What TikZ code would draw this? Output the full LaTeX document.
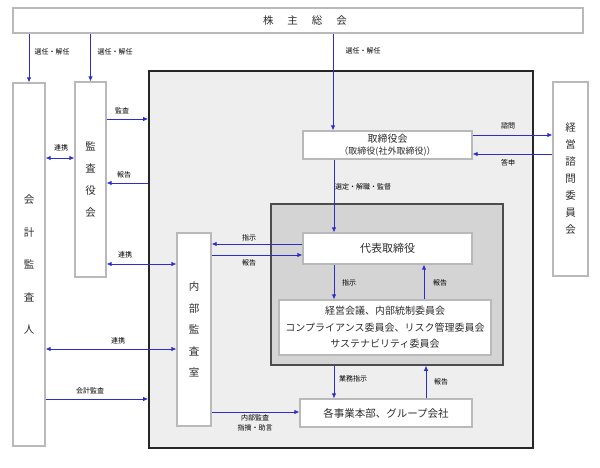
\documentclass[tikz,border=0pt]{standalone}
\usepackage{fontspec}
\setmainfont{Noto Sans CJK JP}
\usepackage{tikz}
\usetikzlibrary{arrows.meta,calc}
\definecolor{boxline}{RGB}{185,185,185}
\definecolor{arrline}{RGB}{45,45,205}
\definecolor{outfill}{RGB}{238,238,238}
\definecolor{infill}{RGB}{212,212,212}
\definecolor{figtext}{RGB}{45,45,45}
\tikzset{
  bx/.style   ={draw=boxline, fill=white, line width=1.2pt, inner sep=0pt, text=figtext, align=center, font=\fontsize{10.5}{13}\selectfont},
  vbx/.style  ={bx, font=\fontsize{10.5}{#1}\selectfont},
  lab/.style  ={font=\fontsize{7}{10}\selectfont, inner sep=1pt, text=black, align=center},
  ptr/.style  ={draw=arrline, line width=0.8pt, -{Latex[length=5pt,width=4.5pt]}},
  dptr/.style ={ptr, {Latex[length=5pt,width=4.5pt]}-{Latex[length=5pt,width=4.5pt]}},
}

\begin{document}
\begin{tikzpicture}[x=1pt,y=-1pt]
  \useasboundingbox (0,0) rectangle (600,468);
  % frames
  \node[draw=black!85, fill=outfill, line width=1.8pt, minimum width=384pt, minimum height=377pt] (outer) at (341,259.5) {};
  \node[draw=black!70, fill=infill, line width=1.5pt, minimum width=232pt, minimum height=161pt] (inner) at (387,284.5) {};
  % boxes
  \node[bx, minimum width=570pt, minimum height=25pt] (kabu) at (298,20.5) {\hspace*{14pt}株\hspace{14pt}主\hspace{14pt}総\hspace{14pt}会};
  \node[vbx=32.5pt, minimum width=32pt, minimum height=363pt] (kaikei) at (29,264.5) {会\\計\\監\\査\\人};
  \node[vbx=22pt, minimum width=31pt, minimum height=195pt] (kansayaku) at (90.5,179.5) {監\\査\\役\\会};
  \node[vbx=21.5pt, minimum width=34pt, minimum height=193pt] (naibu) at (194,329.5) {内\\部\\監\\査\\室};
  \node[vbx=17pt, minimum width=35pt, minimum height=194pt] (shimon) at (570.5,179) {経\\営\\諮\\問\\委\\員\\会};
  \node[bx, minimum width=169pt, minimum height=28pt, font=\fontsize{10}{12}\selectfont] (torishimari) at (387.5,145) {取締役会\\{\fontsize{9}{11}\selectfont（取締役(社外取締役)）}};
  \node[bx, minimum width=169pt, minimum height=31pt, font=\fontsize{11}{13}\selectfont] (daihyo) at (387.5,248.5) {代表取締役};
  \node[bx, minimum width=212pt, minimum height=55pt, font=\fontsize{10}{16.5}\selectfont] (keiei) at (385,327.5) {経営会議、内部統制委員会\\コンプライアンス委員会、リスク管理委員会\\サステナビリティ委員会};
  \node[bx, minimum width=172pt, minimum height=28pt] (jigyo) at (386,413) {各事業本部、グループ会社};
  % arrows
  \draw[ptr] (kaikei.north |- kabu.south) -- (kaikei.north);
  \draw[ptr] (kansayaku.north |- kabu.south) -- (kansayaku.north);
  \draw[ptr] (kabu.south -| 333,0) -- (torishimari.north -| 333,0);
  \draw[ptr] (kansayaku.east |- 0,119) -- (outer.west |- 0,119);
  \draw[ptr] (outer.west |- 0,183) -- (kansayaku.east |- 0,183);
  \draw[dptr] (kaikei.east |- 0,158) -- (kansayaku.west |- 0,158);
  \draw[dptr] (kansayaku.east |- 0,264) -- (naibu.west |- 0,264);
  \draw[ptr] (daihyo.west |- 0,244) -- (naibu.east |- 0,244);
  \draw[ptr] (naibu.east |- 0,255) -- (daihyo.west |- 0,255);
  \draw[dptr] (kaikei.east |- 0,349) -- (naibu.west |- 0,349);
  \draw[ptr] (kaikei.east |- 0,399) -- (outer.west |- 0,399);
  \draw[ptr] (naibu.east |- 0,412) -- (jigyo.west |- 0,412);
  \draw[ptr] (torishimari.east |- 0,135) -- (shimon.west |- 0,135);
  \draw[ptr] (shimon.west |- 0,154) -- (torishimari.east |- 0,154);
  \draw[ptr] (torishimari.south -| 334,0) -- (daihyo.north -| 334,0);
  \draw[ptr] (daihyo.south -| 334,0) -- (keiei.north -| 334,0);
  \draw[ptr] (keiei.north -| 424,0) -- (daihyo.south -| 424,0);
  \draw[ptr] (inner.south -| 334,0) -- (jigyo.north -| 334,0);
  \draw[ptr] (jigyo.north -| 426,0) -- (inner.south -| 426,0);
  % labels
  \node[lab] (l1) at (52,52) {選任・解任};
  \node[lab] (l2) at (115,52) {選任・解任};
  \node[lab] (l3) at (363,51) {選任・解任};
  \node[lab] (l4) at (122,111) {監査};
  \node[lab] (l5) at (124,175) {報告};
  \node[lab] (l6) at (61,148) {連携};
  \node[lab] (l7) at (125,255) {連携};
  \node[lab] (l8) at (249,238) {指示};
  \node[lab] (l9) at (249,263) {報告};
  \node[lab] (l10) at (118,341) {連携};
  \node[lab] (l11) at (90,391) {会計監査};
  \node[lab] (l12) at (255,423) {内部監査\\指摘・助言};
  \node[lab] (l13) at (363,187) {選定・解職・監督};
  \node[lab] (l14) at (508,126) {諮問};
  \node[lab] (l15) at (508,163) {答申};
  \node[lab] (l16) at (349,283) {指示};
  \node[lab] (l17) at (440,283) {報告};
  \node[lab] (l18) at (353,379) {業務指示};
  \node[lab] (l19) at (441,382) {報告};
\end{tikzpicture}
\end{document}
